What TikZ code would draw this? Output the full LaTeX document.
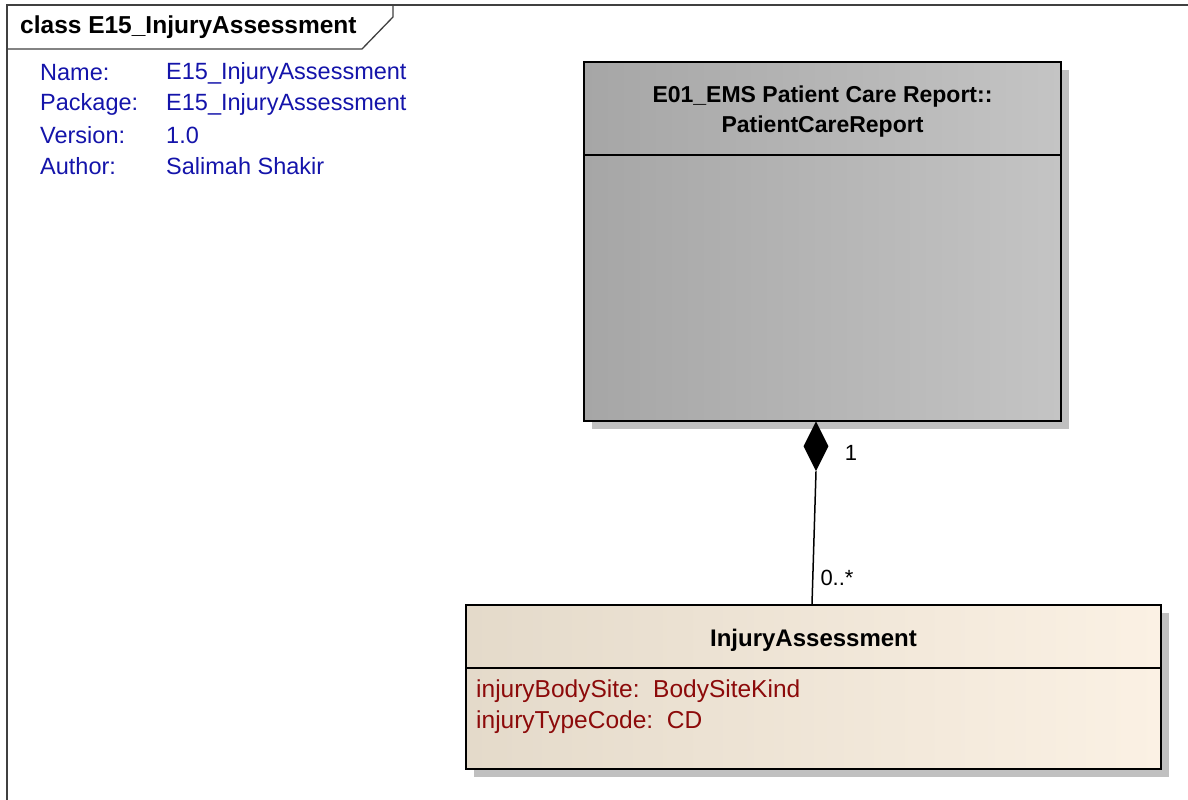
\documentclass[tikz,border=0pt]{standalone}
\usepackage{fontspec}
\setmainfont{Liberation Sans}
\usepackage{xcolor}
\usepackage{tikz}
\usetikzlibrary{positioning,shapes.geometric,shadows}

\definecolor{infoblue}{RGB}{20,20,170}
\definecolor{attrred}{RGB}{140,10,10}
\definecolor{grayL}{RGB}{166,166,166}
\definecolor{grayR}{RGB}{196,196,196}
\definecolor{beigeL}{RGB}{228,218,202}
\definecolor{beigeR}{RGB}{251,241,228}
\definecolor{shadowgray}{RGB}{192,192,192}

\begin{document}
\begin{tikzpicture}[
    x=1pt, y=-1pt,
    classbox/.style={rectangle, draw, line width=2pt, inner sep=0pt,
                     drop shadow={shadow xshift=8pt, shadow yshift=-8pt, fill=shadowgray, opacity=1}},
    divider/.style={line width=1.5pt},
    frameline/.style={line width=1.3pt, draw=black!75},
    info/.style={anchor=west, inner sep=0pt, text=infoblue, font=\fontsize{23.5}{27}\selectfont},
    classtitle/.style={inner sep=0pt, align=center, font=\fontsize{23}{30}\selectfont\bfseries},
    attr/.style={anchor=west, inner sep=0pt, text=attrred, font=\fontsize{24.5}{27}\selectfont},
    mult/.style={inner sep=0pt, font=\fontsize{22}{26}\selectfont},
    assoc/.style={line width=1.5pt}
]
\useasboundingbox (0,0) rectangle (1188,800);

% Frame and name tab
\draw[frameline] (1188,5) -- (7,5) -- (7,800);
\draw[frameline] (7,49) -- (362,49) -- (393,17) -- (393,5);
\node[anchor=west, inner sep=0pt, font=\fontsize{24.5}{27}\selectfont\bfseries] (frameT) at (20,27) {class E15\_InjuryAssessment};

% Package info
\node[info] (nameL) at (40,73)  {Name:};
\node[info] (pkgL)  at (40,104) {Package:};
\node[info] (verL)  at (40,135) {Version:};
\node[info] (autL)  at (40,166) {Author:};
\node[info] (nameV) at (166,73)  {E15\_InjuryAssessment};
\node[info] (pkgV)  at (166,104) {E15\_InjuryAssessment};
\node[info] (verV)  at (166,135) {1.0};
\node[info] (autV)  at (166,166) {Salimah Shakir};

% Classes
\node[classbox, left color=grayL, right color=grayR, minimum width=477pt, minimum height=359pt,
      anchor=north west] (pcr) at (583,61) {};
\draw[divider] ([yshift=-94pt]pcr.north west) -- ([yshift=-94pt]pcr.north east);
\node[classtitle] (pcrT) at ([yshift=-51pt]pcr.north) {E01\_EMS Patient Care Report::\\PatientCareReport};

\node[classbox, left color=beigeL, right color=beigeR, minimum width=695pt, minimum height=164pt,
      anchor=north west] (ia) at (465,604) {};
\draw[divider] ([yshift=-64pt]ia.north west) -- ([yshift=-64pt]ia.north east);
\node[classtitle, font=\fontsize{24}{30}\selectfont\bfseries] (iaT) at ([yshift=-36pt]ia.north) {InjuryAssessment};
\node[attr] (site) at ([xshift=11pt, yshift=-87pt]ia.north west)  {injuryBodySite:\ \ BodySiteKind};
\node[attr] (type) at ([xshift=11pt, yshift=-118pt]ia.north west) {injuryTypeCode:\ \ CD};

% Composition
\node[diamond, aspect=0.5, fill=black, inner sep=0pt, minimum width=25pt, minimum height=50pt,
      anchor=north] (comp) at (816,421) {};
\coordinate (iaTop) at (812,604);
\draw[assoc] (comp.south) -- (iaTop);
\node[mult] (m1) at (851,453) {1};
\node[mult] (m2) at (837,578) {0..*};

\end{tikzpicture}
\end{document}
